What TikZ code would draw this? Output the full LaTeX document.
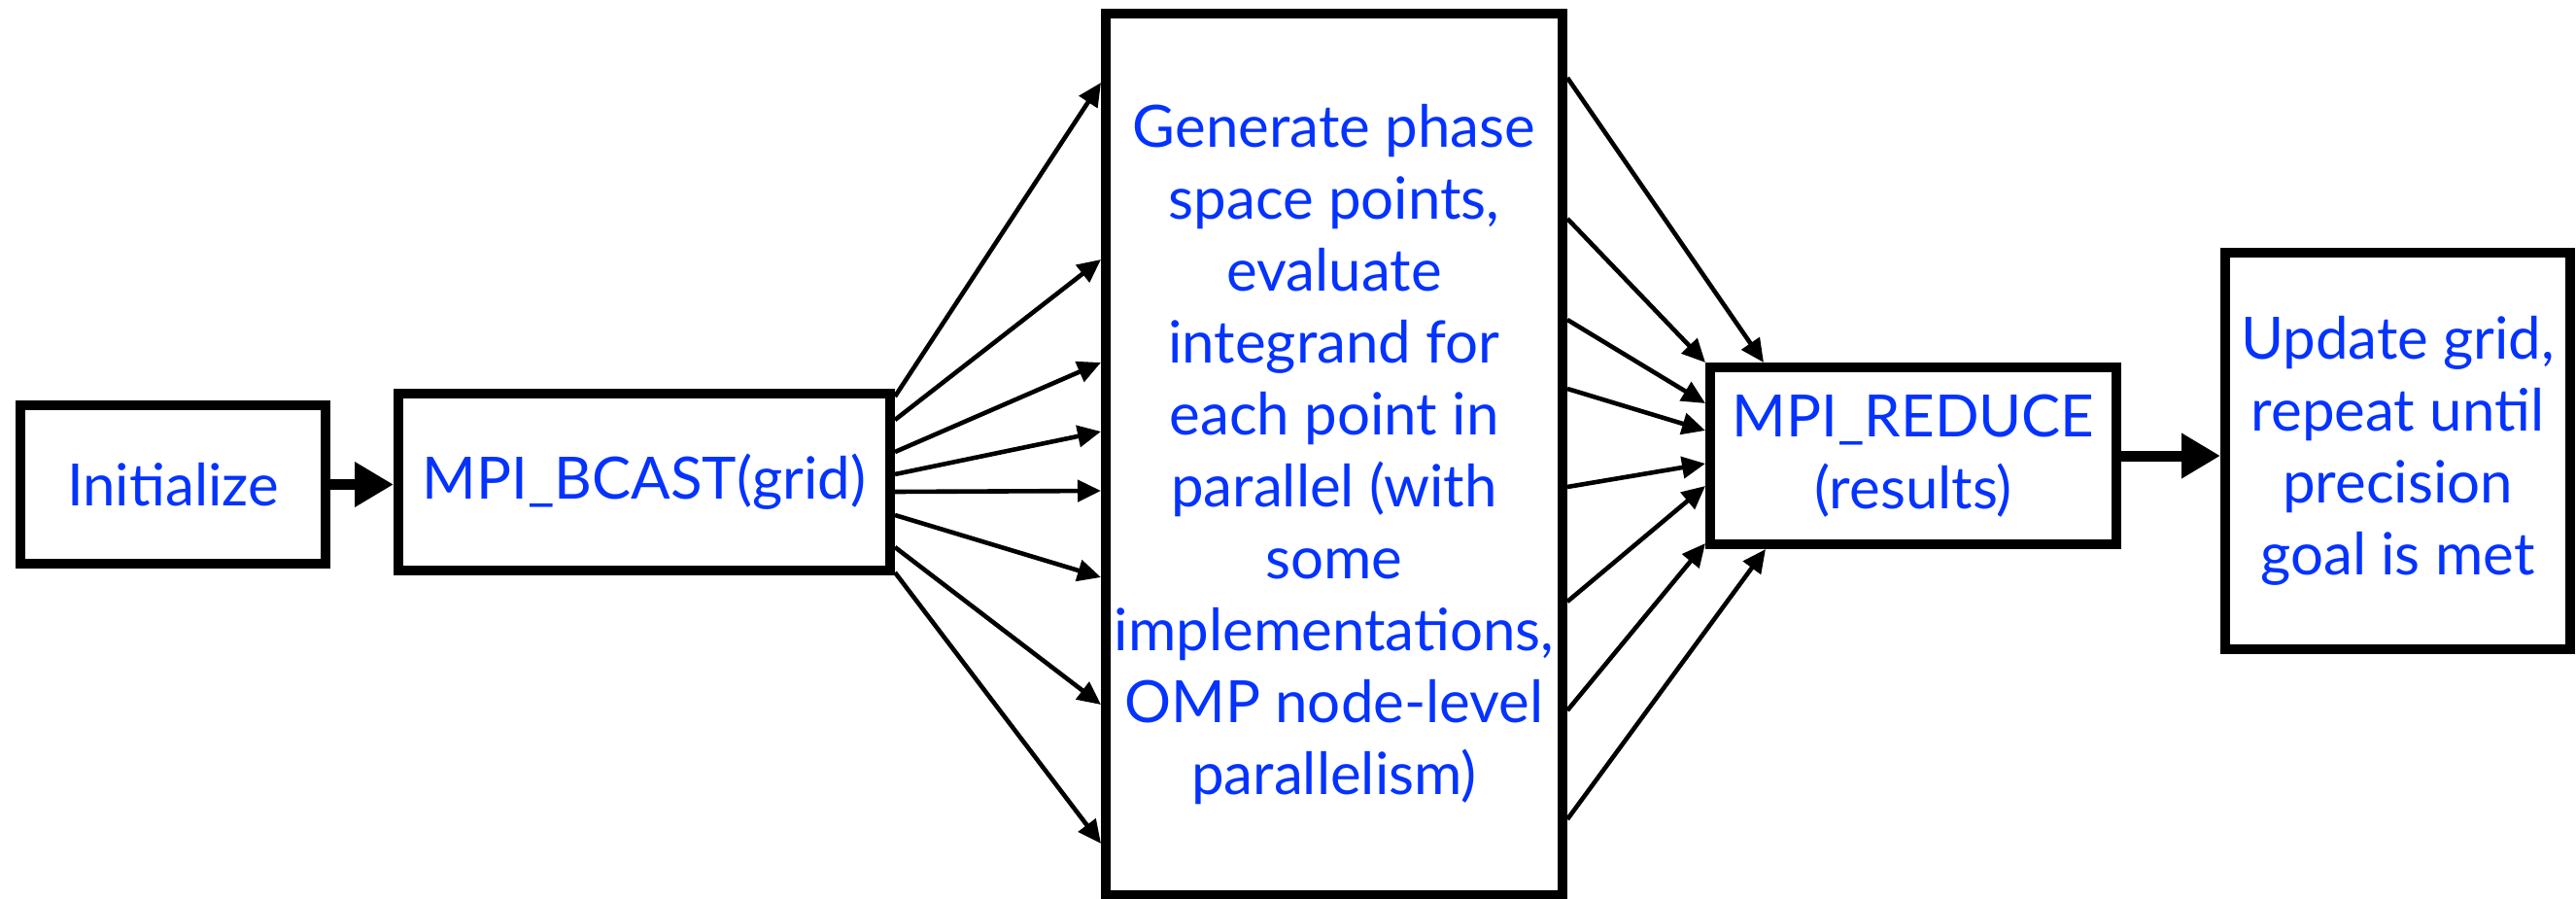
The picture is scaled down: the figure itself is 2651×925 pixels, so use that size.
\documentclass[tikz,border=0pt]{standalone}
\usepackage{fontspec}
\setmainfont{Lato}
\usetikzlibrary{arrows.meta,calc}
\definecolor{txtblue}{RGB}{4,51,255}
\begin{document}
\begin{tikzpicture}[x=0.5pt,y=-0.5pt,
  box/.style={draw=black,fill=white,line width=5pt,rectangle,inner sep=0pt,align=center,
    text=txtblue,font=\fontsize{30pt}{37pt}\selectfont},
  thinarrow/.style={line width=2.3pt,-{Triangle[length=12pt,width=11pt]}},
  thickarrow/.style={line width=5.5pt,-{Triangle[length=20pt,width=22pt]}}]
\useasboundingbox (0,0) rectangle (2651,925);
\fill[white] (0,0) rectangle (2651,925);

\node[box,minimum width=157pt,minimum height=81.5pt] (init) at (178,498.5) {Initialize};
\node[box,minimum width=253pt,minimum height=91pt] (bcast) at (663,496) {MPI\_BCAST(grid)};
\node[box,minimum width=235pt,minimum height=453.5pt] (big) at (1373,467.5)
  {Generate phase\\space points,\\evaluate\\integrand for\\each point in\\parallel (with\\some\\implementations,\\OMP node-level\\parallelism)};
\node[box,minimum width=209pt,minimum height=91pt] (reduce) at (1969,469) {MPI\_REDUCE\\(results)};
\node[box,minimum width=177.5pt,minimum height=204pt] (update) at (2467.5,464)
  {Update grid,\\repeat until\\precision\\goal is met};

\draw[thickarrow] (init.east) -- (init.east -| bcast.west);
\draw[thickarrow] (reduce.east) -- (reduce.east -| update.west);

% fan out
\draw[thinarrow] ($(bcast.east)+(0,-88)$) -- ($(big.west)+(0,-382.5)$);
\draw[thinarrow] ($(bcast.east)+(0,-64)$) -- ($(big.west)+(0,-200.5)$);
\draw[thinarrow] ($(bcast.east)+(0,-31)$) -- ($(big.west)+(0,-94.5)$);
\draw[thinarrow] ($(bcast.east)+(0,-8)$) -- ($(big.west)+(0,-23.5)$);
\draw[thinarrow] ($(bcast.east)+(0,10)$) -- ($(big.west)+(0,37.5)$);
\draw[thinarrow] ($(bcast.east)+(0,34)$) -- ($(big.west)+(0,126.5)$);
\draw[thinarrow] ($(bcast.east)+(0,67)$) -- ($(big.west)+(0,257.5)$);
\draw[thinarrow] ($(bcast.east)+(0,93)$) -- ($(big.west)+(0,400.5)$);

% fan in
\draw[thinarrow] ($(big.east)+(0,-387.5)$) -- ($(reduce.north)+(-154,0)$);
\draw[thinarrow] ($(big.east)+(0,-242.5)$) -- (reduce.north west);
\draw[thinarrow] ($(big.east)+(0,-138.5)$) -- ($(reduce.west)+(0,-54)$);
\draw[thinarrow] ($(big.east)+(0,-67.5)$) -- ($(reduce.west)+(0,-26)$);
\draw[thinarrow] ($(big.east)+(0,33.5)$) -- ($(reduce.west)+(0,8)$);
\draw[thinarrow] ($(big.east)+(0,151.5)$) -- ($(reduce.west)+(0,31)$);
\draw[thinarrow] ($(big.east)+(0,263.5)$) -- ($(reduce.west)+(0,90)$);
\draw[thinarrow] ($(big.east)+(0,375.5)$) -- ($(reduce.south)+(-152,0)$);
\end{tikzpicture}
\end{document}
